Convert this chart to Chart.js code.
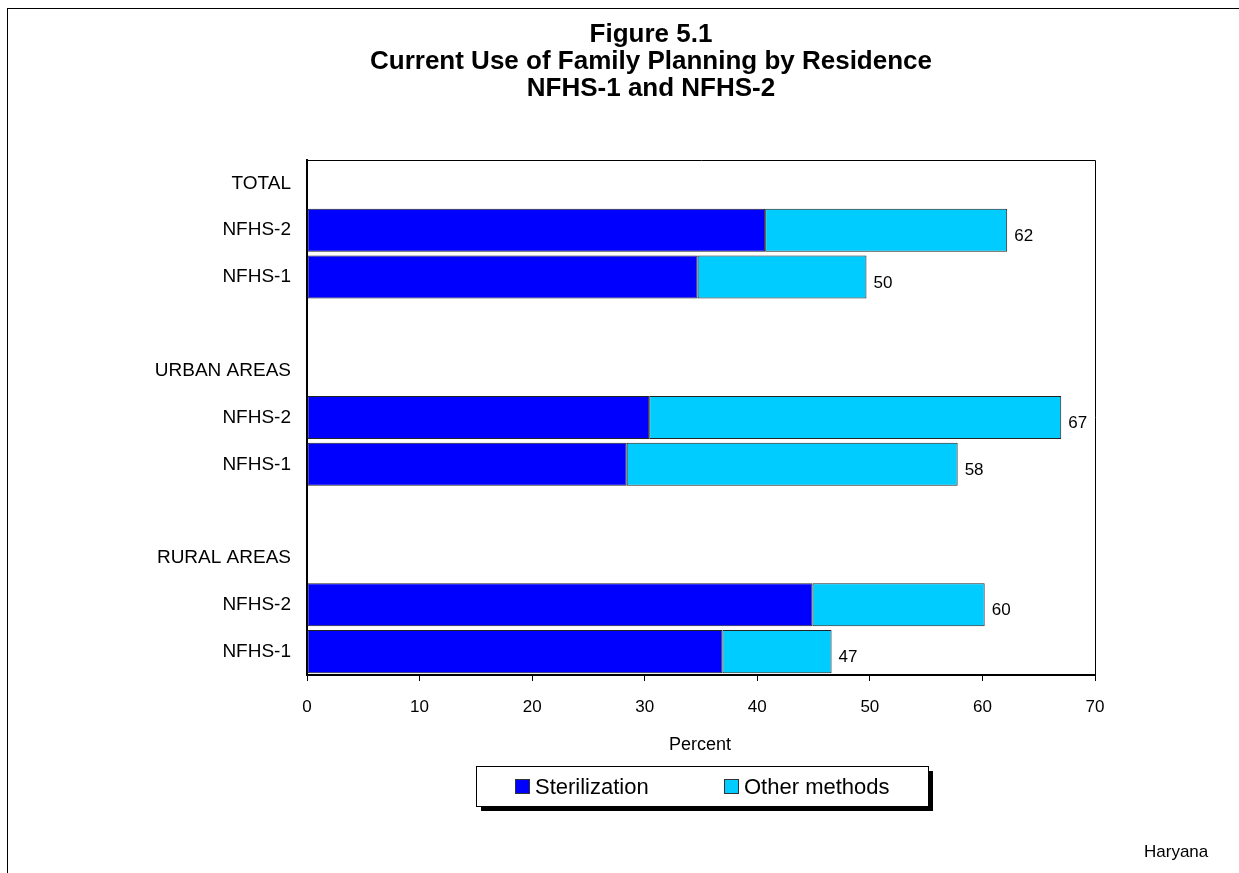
<!DOCTYPE html>
<html>
<head>
<meta charset="utf-8">
<script src="https://cdn.jsdelivr.net/npm/chart.js@4/dist/chart.umd.min.js"></script>
<style>
  html, body { margin: 0; padding: 0; background: #fff; }
  #wrap { width: 1239px; height: 873px; }
</style>
</head>
<body>
<div id="wrap"><canvas id="fig51" width="1239" height="873"></canvas></div>
<script>
// rows, top to bottom (group headers have no bars)
var rowLabels = ['TOTAL', 'NFHS-2', 'NFHS-1', '', 'URBAN AREAS', 'NFHS-2', 'NFHS-1', '', 'RURAL AREAS', 'NFHS-2', 'NFHS-1'];
var sterilization = [null, 40.7, 34.7, null, null, 30.4, 28.4, null, null, 44.9, 36.9];
var otherMethods  = [null, 21.5, 15.0, null, null, 36.6, 29.4, null, null, 15.3, 9.7];
var totalLabels   = [null, '62', '50', null, null, '67', '58', null, null, '60', '47'];
var xTicks = [0, 10, 20, 30, 40, 50, 60, 70];

var titleLines = ['Figure 5.1', 'Current Use of Family Planning by Residence', 'NFHS-1 and NFHS-2'];

var FONT = '"Liberation Sans", Arial, sans-serif';

var decor = {
	id: 'decor',
	afterDraw: function(chart) {
		var ctx = chart.ctx;
		var a = chart.chartArea;
		ctx.save();

		// outer frame
		ctx.strokeStyle = '#000';
		ctx.lineWidth = 1;
		ctx.strokeRect(7.5, 8.5, 1240, 870);

		// plot frame top/right
		ctx.beginPath();
		ctx.moveTo(a.left, a.top + 0.5);
		ctx.lineTo(a.right + 0.5, a.top + 0.5);
		ctx.lineTo(a.right + 0.5, a.bottom);
		ctx.stroke();

		// title
		ctx.fillStyle = '#000';
		ctx.textAlign = 'center';
		ctx.textBaseline = 'middle';
		ctx.font = 'bold 26px ' + FONT;
		titleLines.forEach(function(t, i) {
			ctx.fillText(t, 651, 35 + i * 27);
		});

		// value labels at bar ends
		ctx.font = '17px ' + FONT;
		ctx.textAlign = 'left';
		var meta = chart.getDatasetMeta(1);
		meta.data.forEach(function(bar, i) {
			if (totalLabels[i] == null) return;
			ctx.fillText(totalLabels[i], bar.x + 7, bar.y + 6);
		});

		// x axis title
		ctx.font = '18px ' + FONT;
		ctx.textAlign = 'center';
		ctx.fillText('Percent', 700, 745);

		// legend box with shadow
		var lx = 476, ly = 766, lw = 452, lh = 40;
		ctx.fillStyle = '#000';
		ctx.fillRect(lx + 5, ly + 5, lw, lh);
		ctx.fillStyle = '#fff';
		ctx.fillRect(lx, ly, lw, lh);
		ctx.strokeRect(lx + 0.5, ly + 0.5, lw, lh);

		ctx.font = '22px ' + FONT;
		ctx.textAlign = 'left';
		var items = [[515, chart.data.datasets[0]], [724, chart.data.datasets[1]]];
		items.forEach(function(it) {
			var x = it[0], ds = it[1];
			ctx.fillStyle = ds.backgroundColor;
			ctx.fillRect(x, 779, 15, 15);
			ctx.strokeStyle = '#333';
			ctx.strokeRect(x + 0.5, 779.5, 14, 14);
			ctx.fillStyle = '#000';
			ctx.fillText(ds.label, x + 20, 788);
		});

		// state name
		ctx.font = '17px ' + FONT;
		ctx.fillText('Haryana', 1144, 852);

		ctx.restore();
	}
};

var chart = new Chart(document.getElementById('fig51').getContext('2d'), {
	type: 'bar',
	data: {
		labels: rowLabels,
		datasets: [
			{
				label: 'Sterilization',
				data: sterilization,
				backgroundColor: '#0000FF',
				borderColor: '#222',
				borderWidth: 1,
				borderSkipped: false,
				barPercentage: 0.92,
				categoryPercentage: 1
			},
			{
				label: 'Other methods',
				data: otherMethods,
				backgroundColor: '#00CCFF',
				borderColor: '#222',
				borderWidth: 1,
				borderSkipped: false,
				barPercentage: 0.92,
				categoryPercentage: 1
			}
		]
	},
	options: {
		indexAxis: 'y',
		responsive: false,
		animation: false,
		layout: { padding: { top: 160, right: 144, bottom: 148, left: 0 } },
		plugins: {
			legend: { display: false },
			title: { display: false },
			tooltip: { enabled: false }
		},
		scales: {
			x: {
				stacked: true,
				min: 0,
				max: 70,
				afterBuildTicks: function(scale) {
					scale.ticks = xTicks.map(function(v) { return { value: v }; });
				},
				afterFit: function(scale) { scale.height = 50; },
				grid: { drawOnChartArea: false, drawTicks: true, tickLength: 6, color: '#000', lineWidth: 1 },
				border: { display: true, color: '#000', width: 2 },
				ticks: { color: '#000', font: { family: FONT, size: 17 }, padding: 16, maxRotation: 0 }
			},
			y: {
				stacked: true,
				afterFit: function(scale) { scale.width = 307; },
				grid: { drawOnChartArea: false, drawTicks: false },
				border: { display: true, color: '#000', width: 2 },
				ticks: { color: '#000', font: { family: FONT, size: 19 }, padding: 16, autoSkip: false }
			}
		}
	},
	plugins: [decor]
});
</script>
</body>
</html>
